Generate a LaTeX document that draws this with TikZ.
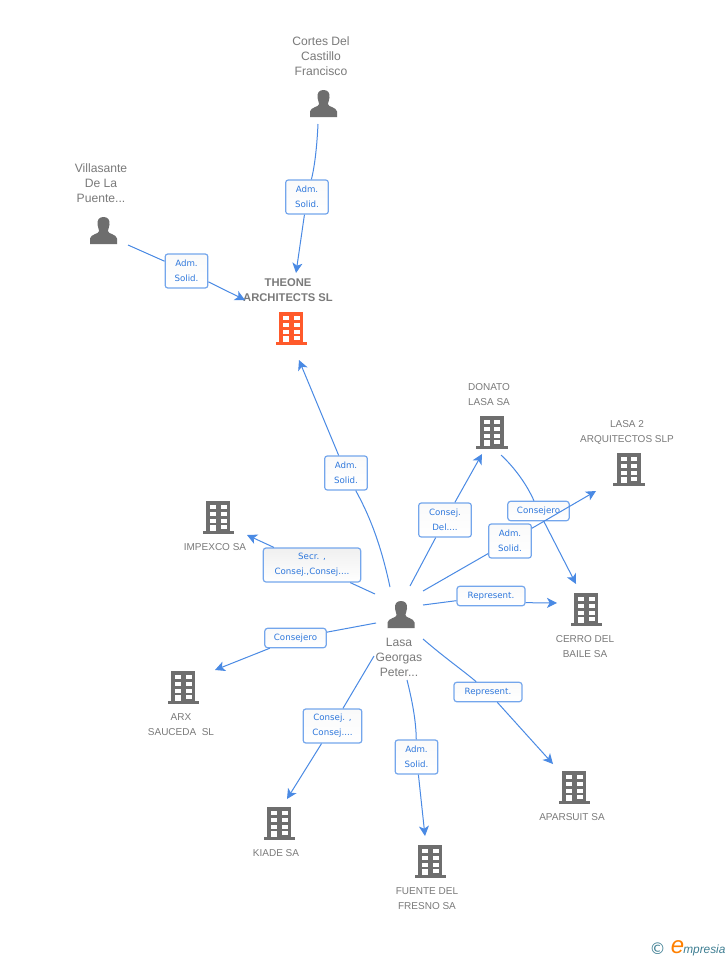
\documentclass[tikz,border=0pt]{standalone}
\usepackage{fontspec}
\setmainfont{Liberation Sans}
\newfontfamily\tagfont{DejaVu Sans}
\newfontfamily\copyfont{DejaVu Sans}
\usetikzlibrary{arrows.meta}
\definecolor{linkblue}{HTML}{4A8AE4}
\definecolor{boxedge}{HTML}{74A6EC}
\definecolor{labeltext}{HTML}{2F78DC}
\definecolor{icongray}{HTML}{6E6E6E}
\definecolor{txtgray}{HTML}{7A7A7A}
\definecolor{iconorange}{HTML}{FF5A2B}
\definecolor{logoteal}{HTML}{3F7F93}
\tikzset{
  x=0.75pt,y=-0.75pt,
  link/.style={draw=linkblue,line width=0.75pt},
  linkarrow/.style={link,-{Stealth[length=7.5pt,width=7.5pt,inset=2pt]}},
  tag/.style={draw=boxedge,line width=0.9pt,rounded corners=2pt,top color=black!2,bottom color=white,
    text=labeltext,font=\tagfont\fontsize{6.5}{11.2}\selectfont,align=center,inner sep=0pt},
  pertag/.style={tag,minimum height=25.5pt},
  flattag/.style={tag,minimum height=14.5pt},
  caption/.style={text=txtgray,font=\fontsize{7.5}{11.2}\selectfont,align=center,inner sep=0pt},
  personcap/.style={caption,font=\fontsize{9.1}{11.25}\selectfont},
  tower/.pic={
    \fill[pic actions] (-12,-17) rectangle (12,14);
    \fill[pic actions] (-15.5,13) rectangle (16,16);
    \foreach \r in {-13.5,-6.5,0.5}{
      \foreach \c in {-8,2.5}{\fill[white] (\c,\r) rectangle ++(6,4.5);}}
    \fill[white] (-8,7) rectangle (-2,13);
    \fill[white] (2.5,7) rectangle (8.5,11);
  },
  human/.pic={
    \fill[icongray] (0,-14) .. controls (-4.5,-14) and (-6.5,-11) .. (-6,-6.5)
      .. controls (-5.7,-3.5) and (-4.6,-2) .. (-4.4,0)
      .. controls (-4.2,3) and (-13,3) .. (-13.5,7.5) -- (-13.5,13) -- (13.5,13) -- (13.5,7.5)
      .. controls (13,3) and (4.2,3) .. (4.4,0)
      .. controls (4.6,-2) and (5.7,-3.5) .. (6,-6.5)
      .. controls (6.5,-11) and (4.5,-14) .. (0,-14) -- cycle;
  }
}
\begin{document}
\begin{tikzpicture}
\useasboundingbox (0,0) rectangle (728,960);
\fill[white] (0,0) rectangle (728,960);

% icons
\path[fill=iconorange] (291,329) pic {tower};
\foreach \x/\y in {491.5/433,628.5/470,586/610,218/518,183/688,574/788,279/824,430/862}
  {\path[fill=icongray] (\x,\y) pic {tower};}
\path (323.5,104) pic {human};
\path (103.5,231) pic {human};
\path (401,615) pic {human};

% captions
\node[personcap] (cortes) at (321,56) {Cortes Del\\Castillo\\Francisco};
\node[personcap] (villa) at (101,183) {Villasante\\De La\\Puente...};
\node[caption,font=\fontsize{8.4}{11.2}\selectfont\bfseries] (theone) at (288,290) {THEONE\\ARCHITECTS SL};
\node[caption] (donato) at (489,395) {DONATO\\LASA SA};
\node[caption] (lasados) at (627,432) {LASA 2\\ARQUITECTOS SLP};
\node[caption] (impexco) at (215,547) {IMPEXCO SA};
\node[caption] (cerro) at (585,647) {CERRO DEL\\BAILE SA};
\node[caption] (arx) at (181,725) {ARX\\SAUCEDA\ \ SL};
\node[caption] (aparsuit) at (572,817) {APARSUIT SA};
\node[caption] (kiade) at (276,853) {KIADE SA};
\node[caption] (fuente) at (427,899) {FUENTE DEL\\FRESNO SA};
\node[personcap] (lasa) at (399,657) {Lasa\\Georgas\\Peter...};

% connector ends
\coordinate (a1) at (318,124); \coordinate (b1) at (296,273);
\coordinate (a2) at (128,245); \coordinate (b2) at (245,300);
\coordinate (a3) at (390,587); \coordinate (b3) at (299,360);
\coordinate (a4) at (410,586); \coordinate (b4) at (482,454);
\coordinate (a5) at (501,455); \coordinate (b5) at (576,584);
\coordinate (a6) at (423,591); \coordinate (b6) at (596,491);
\coordinate (a7) at (423,605); \coordinate (b7) at (557,603);
\coordinate (a8) at (375,594); \coordinate (b8) at (247,535);
\coordinate (a9) at (376,623); \coordinate (b9) at (215,670);
\coordinate (a10) at (374,656); \coordinate (b10) at (287,799);
\coordinate (a11) at (407,680); \coordinate (b11) at (425,836);
\coordinate (a12) at (423,639); \coordinate (b12) at (553,764);

% tags and connectors
\node[pertag,minimum width=32pt] (t1) at (307,197) {Adm.\\Solid.};
\draw[link] (a1) .. controls (317,145) and (315,165) .. (t1);
\draw[linkarrow] (t1) -- (b1);

\node[pertag,minimum width=32pt] (t2) at (186.5,271) {Adm.\\Solid.};
\draw[link] (a2) -- (t2);
\draw[linkarrow] (t2) -- (b2);

\node[pertag,minimum width=32pt] (t3) at (346,473) {Adm.\\Solid.};
\draw[link] (a3) .. controls (382,550) and (372,520) .. (t3);
\draw[linkarrow] (t3) -- (b3);

\node[pertag,minimum width=39.5pt] (t4) at (445,520) {Consej.\\Del....};
\draw[link] (a4) -- (t4);
\draw[linkarrow] (t4) -- (b4);

\node[flattag,minimum width=46pt] (t5) at (538.5,511) {Consejero};
\draw[link] (a5) .. controls (515,468) and (527,485) .. (t5);
\draw[linkarrow] (t5) -- (b5);

\node[pertag,minimum width=32pt] (t6) at (510,541) {Adm.\\Solid.};
\draw[link] (a6) -- (t6);
\draw[linkarrow] (t6) -- (b6);

\node[flattag,minimum width=51pt] (t7) at (491,596) {Represent.};
\draw[link] (a7) -- ([yshift=-3.5pt]t7.west);
\draw[linkarrow] ([yshift=-5pt]t7.east) -- (b7);

\node[pertag,minimum width=73pt,top color=black!6] (t8) at (312,565) {Secr. ,\\Consej.,Consej....};
\draw[link] (a8) -- (t8);
\draw[linkarrow] (t8) -- (b8);

\node[flattag,minimum width=46pt] (t9) at (295.5,638) {Consejero};
\draw[link] (a9) -- (t9);
\draw[linkarrow] (t9) -- (b9);

\node[pertag,minimum width=44pt] (t10) at (332.5,726) {Consej. ,\\Consej....};
\draw[link] (a10) -- (t10);
\draw[linkarrow] (t10) -- (b10);

\node[pertag,minimum width=32pt] (t11) at (416.5,757) {Adm.\\Solid.};
\draw[link] (a11) .. controls (412,700) and (416,720) .. (t11);
\draw[linkarrow] (t11) -- (b11);

\node[flattag,minimum width=51pt] (t12) at (488,692) {Represent.};
\draw[link] (a12) .. controls (445,658) and (465,672) .. (t12);
\draw[linkarrow] (t12) -- (b12);

% logo
\node[inner sep=0pt,text=logoteal,font=\copyfont\fontsize{12}{12}\selectfont] (copy) at (657.5,949) {©};
\node[inner sep=0pt,text=orange,font=\fontsize{18}{18}\selectfont\itshape] (logoe) at (677.5,947.5) {e};
\node[inner sep=0pt,text=logoteal,font=\fontsize{8.9}{10}\selectfont\itshape,anchor=west] (logot) at (683,950) {mpresia};
\end{tikzpicture}
\end{document}
